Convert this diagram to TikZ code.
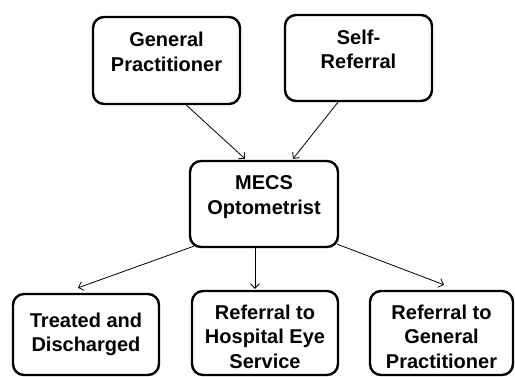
\documentclass[tikz,border=0pt]{standalone}
\usepackage{fontspec}
\setmainfont{Liberation Sans}
\usepackage{tikz}
\usetikzlibrary{positioning}
\usetikzlibrary{calc,arrows.meta}

\begin{document}
\begin{tikzpicture}[x=1pt,y=-1pt]
    % Define the styles of the boxes and arrows
    \tikzset{care box/.style={draw, line width=2.4pt, rounded corners=11pt, align=center,
        font=\fontsize{20}{24.5}\selectfont\bfseries, inner sep=0pt}}
    \tikzset{raised/.style={text depth=18pt}}
    \tikzset{lowered/.style={text height=71pt}}
    \tikzset{thin arrow/.style={line width=0.8pt, -{Straight Barb[length=4.5pt, width=9pt]}}}

    % Fix the size of the picture
    \useasboundingbox (0,0) rectangle (515,376);

    % Draw the boxes
    \node[care box, raised, minimum width=147pt, minimum height=87pt] (gp) at (166.5,60.5) {General\\Practitioner};
    \node[care box, raised, minimum width=147pt, minimum height=86pt] (self) at (358.5,58) {Self-\\Referral};
    \node[care box, raised, minimum width=148pt, minimum height=86pt] (mecs) at (264,204) {MECS\\Optometrist};
    \node[care box, minimum width=146pt, minimum height=81pt] (treated) at (86,334.5) {Treated and\\Discharged};
    \node[care box, lowered, minimum width=146pt, minimum height=84pt] (hes) at (265,333) {Referral to\\Hospital Eye\\Service};
    \node[care box, lowered, minimum width=143pt, minimum height=84pt] (gpback) at (441.5,333) {Referral to\\General\\Practitioner};

    % Draw the arrows into the optometrist
    \draw[thin arrow] ([xshift=20pt]gp.south) -- ([xshift=-19pt, yshift=1pt]mecs.north);
    \draw[thin arrow] ([xshift=-20.5pt]self.south) -- ([xshift=29pt, yshift=1pt]mecs.north);

    % Draw the arrows out of the optometrist
    \draw[thin arrow] ([xshift=5pt, yshift=2pt]mecs.south west) -- ([xshift=-8pt, yshift=5pt]treated.north);
    \draw[thin arrow] ([xshift=-9pt]mecs.south) -- ([xshift=-10pt, yshift=1pt]hes.north);
    \draw[thin arrow] ([xshift=-2pt, yshift=4pt]mecs.south east) -- ([xshift=2.5pt, yshift=5pt]gpback.north);
\end{tikzpicture}
\end{document}
